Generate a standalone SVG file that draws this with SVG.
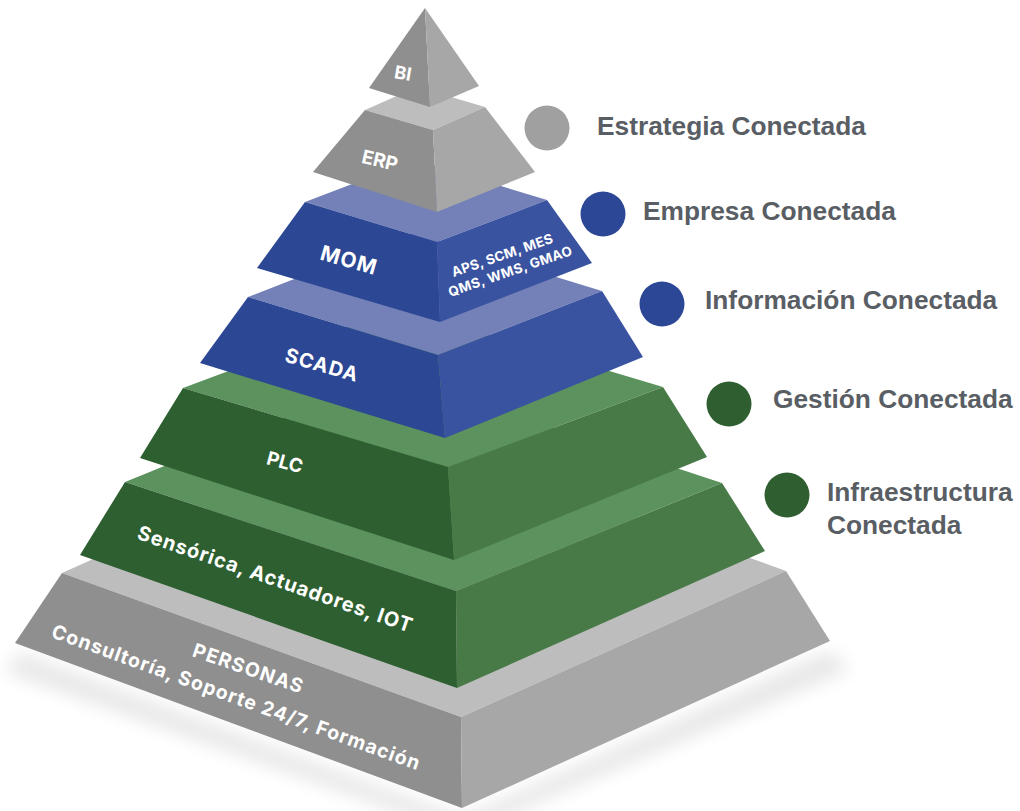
<svg xmlns="http://www.w3.org/2000/svg" width="1020" height="811" viewBox="0 0 1020 811">
<defs>
<filter id="blur" x="-20%" y="-50%" width="140%" height="200%"><feGaussianBlur stdDeviation="9"/></filter>
<style>
.gt{fill:#bdbdbd}.gl{fill:#8f8f8f}.gr{fill:#a7a7a7}
.bt{fill:#7480b8}.bl{fill:#2c4794}.br{fill:#3a53a0}
.et{fill:#5c925e}.el{fill:#2e5f30}.er{fill:#487a47}
.pt{font-family:Inter,"Open Sans","DejaVu Sans",sans-serif;font-weight:700;fill:#ffffff;text-anchor:middle}
.lab{font-family:"Liberation Sans",Arial,sans-serif;font-weight:700;font-size:26.3px;fill:#595e64}
</style>
</defs>
<rect width="1020" height="811" fill="#ffffff"/>
<polygon points="20,652 462,817 830,650 850,670 462,835 5,672" fill="#000" opacity="0.09" filter="url(#blur)"/>

<g id="personas">
<polygon class="gt" points="62,573 387,427 786,571 461,717"/>
<polygon class="gl" points="62,573 461,717 462,808 15,643"/>
<polygon class="gr" points="461,717 786,571 830,641 462,808"/>
<text class="pt" font-size="19.5" font-weight="600" textLength="115" lengthAdjust="spacing" transform="translate(248,668) rotate(19)" y="7">PERSONAS</text>
<text class="pt" font-size="19.5" font-weight="600" textLength="390" lengthAdjust="spacing" transform="translate(236,697) rotate(20)" y="7">Consultoría, Soporte 24/7, Formación</text>
</g>

<g id="sensorica">
<polygon class="et" points="125,482 391,374 722,483 456,591"/>
<polygon class="el" points="125,482 456,591 457,688 80,555"/>
<polygon class="er" points="456,591 722,483 765,551 457,688"/>
<text class="pt" font-size="20" font-weight="600" textLength="289" lengthAdjust="spacing" transform="translate(275,579) rotate(19)" y="7">Sensórica, Actuadores, IOT</text>
</g>

<g id="plc">
<polygon class="et" points="183,388 398,308 663,387 448,467"/>
<polygon class="el" points="183,388 448,467 454,560 140,458"/>
<polygon class="er" points="448,467 663,387 707,457 454,560"/>
<text class="pt" font-size="19" transform="translate(285,462) rotate(15)" y="7">PLC</text>
</g>

<g id="scada">
<polygon class="bt" points="248,297 412,233 602,291 438,355"/>
<polygon class="bl" points="248,297 438,355 445,438 200,363"/>
<polygon class="br" points="438,355 602,291 643,357 445,438"/>
<text class="pt" font-size="20" letter-spacing="1" transform="translate(322,365) rotate(16)" y="7">SCADA</text>
</g>

<g id="mom">
<polygon class="bt" points="305,202 415,160 547,200 437,242"/>
<polygon class="bl" points="305,202 437,242 440,322 257,268"/>
<polygon class="br" points="437,242 547,200 592,263 440,322"/>
<text class="pt" font-size="21" letter-spacing="1" transform="translate(349,260) rotate(16)" y="7.5">MOM</text>
<text class="pt" font-size="13.5" textLength="106" lengthAdjust="spacing" transform="translate(502,255) rotate(-19)" y="5">APS, SCM, MES</text>
<text class="pt" font-size="13.5" textLength="130" lengthAdjust="spacing" transform="translate(510,271) rotate(-19)" y="5">QMS, WMS, GMAO</text>
</g>

<g id="erp">
<polygon class="gt" points="365,110 417,87 485,107 433,130"/>
<polygon class="gl" points="365,110 433,130 437,212 313,172"/>
<polygon class="gr" points="433,130 485,107 535,172 437,212"/>
<text class="pt" font-size="19" transform="translate(380,160) rotate(13)" y="7">ERP</text>
</g>

<g id="bi">
<polygon class="gl" points="425,8 369,88 430,107"/>
<polygon class="gr" points="425,8 430,107 479,86"/>
<text class="pt" font-size="18" transform="translate(403,73) rotate(10)" y="6.5">BI</text>
</g>

<g id="connectors"/>

<g id="legend-estrategia">
<circle cx="547" cy="128" r="22.5" fill="#a0a0a0"/>
<text class="lab" x="597" y="135">Estrategia Conectada</text>
</g>
<g id="legend-empresa">
<circle cx="603" cy="214" r="22.5" fill="#2c4795"/>
<text class="lab" x="643" y="220">Empresa Conectada</text>
</g>
<g id="legend-informacion">
<circle cx="662" cy="304" r="22.5" fill="#2c4795"/>
<text class="lab" x="705" y="309">Información Conectada</text>
</g>
<g id="legend-gestion">
<circle cx="729" cy="404" r="22.5" fill="#2f5f30"/>
<text class="lab" x="773" y="408">Gestión Conectada</text>
</g>
<g id="legend-infraestructura">
<circle cx="787" cy="495" r="22.5" fill="#2f5f30"/>
<text class="lab" x="827" y="501">Infraestructura</text>
<text class="lab" x="827" y="534">Conectada</text>
</g>
</svg>
